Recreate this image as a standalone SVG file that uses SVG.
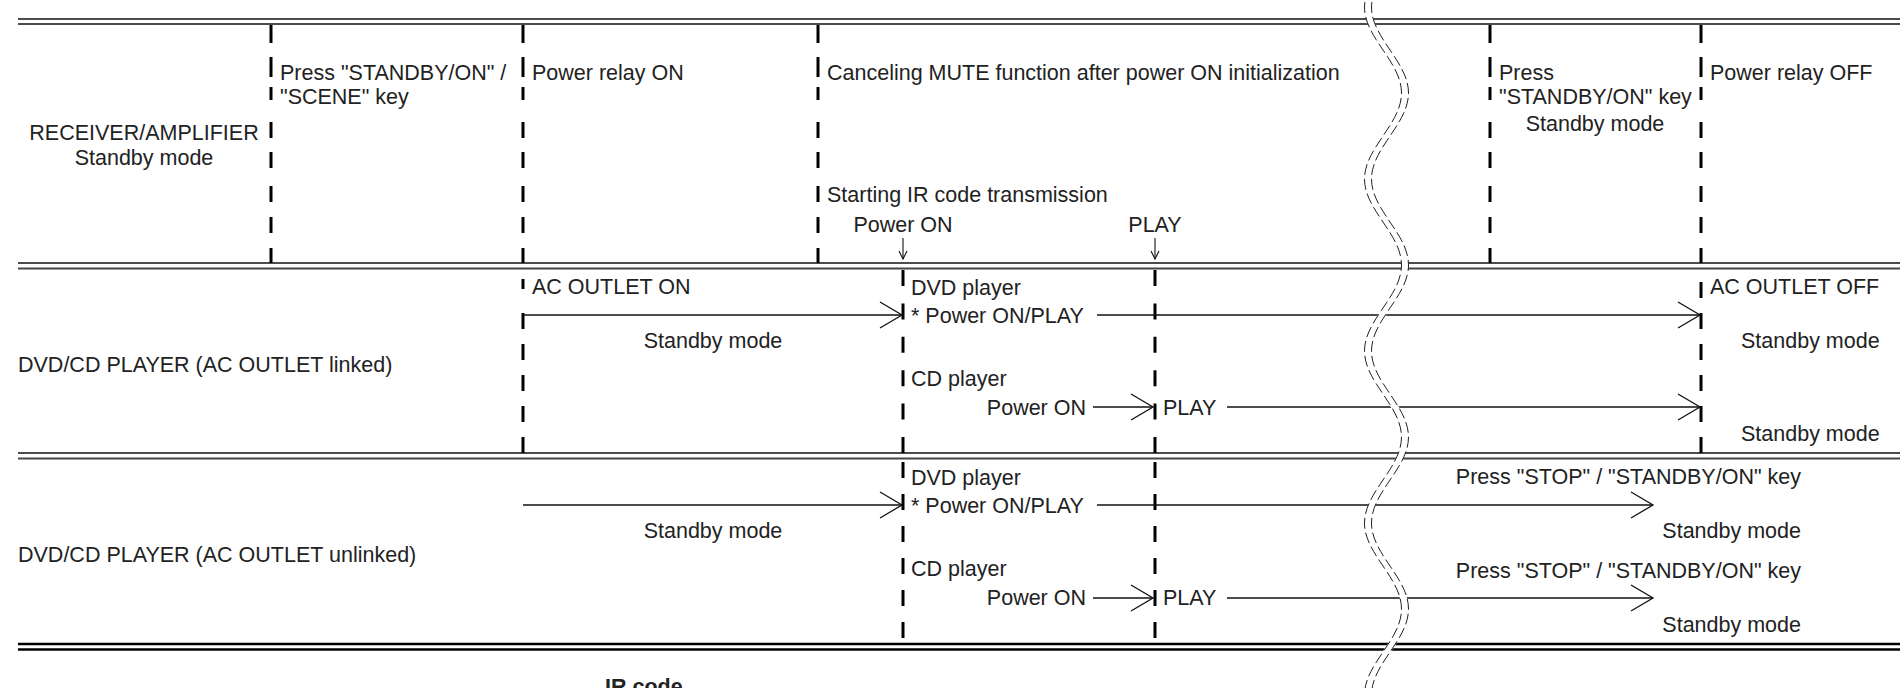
<svg xmlns="http://www.w3.org/2000/svg" width="1900" height="688" viewBox="0 0 1900 688">
<style>
text{font-family:"Liberation Sans",Arial,Helvetica,sans-serif;font-size:21.5px;fill:#222}
.m{text-anchor:middle}.e{text-anchor:end}
.b{font-weight:bold}
.h{stroke:#111;stroke-width:1.5;fill:none}
.hg{stroke:#444;stroke-width:2;fill:none}
.hb{stroke:#000;stroke-width:2.6;fill:none}
.d{stroke:#000;stroke-width:3;fill:none}
.dr{stroke-dasharray:18 14 20 10 13 22 16 14 16 18 16 15 16 15 15}
.dl{stroke-dasharray:16 17.4}
.ds{stroke-dasharray:16 15}
.du{stroke-dasharray:16 16}
.a{stroke:#111;stroke-width:1.3;fill:none;marker-end:url(#ah)}
.sa{stroke:#111;stroke-width:1.1;fill:none;marker-end:url(#sh)}
.wb{stroke:#fff;stroke-width:7;fill:none}
.we{stroke:#222;stroke-width:1;fill:none;stroke-dasharray:11 4}
</style>
<defs>
<marker id="ah" markerUnits="userSpaceOnUse" markerWidth="26" markerHeight="30" viewBox="-24 -15 26 30" refX="0" refY="0" orient="auto" overflow="visible"><path d="M-22,-13 L0,0 L-22,13" fill="none" stroke="#111" stroke-width="1.3"/></marker>
<marker id="sh" markerUnits="userSpaceOnUse" markerWidth="12" markerHeight="12" viewBox="-10 -6 12 12" refX="0" refY="0" orient="auto" overflow="visible"><path d="M-8,-4 L0,0 L-8,4" fill="none" stroke="#111" stroke-width="1.1"/></marker>
<path id="wave" d="M1405,-79 C1405,-47.75 1368,-24.25 1368,7 C1368,38.25 1405,61.75 1405,93 C1405,124.25 1368,147.75 1368,179 C1368,210.25 1405,233.75 1405,265 C1405,296.25 1368,319.75 1368,351 C1368,382.25 1405,405.75 1405,437 C1405,468.25 1368,491.75 1368,523 C1368,554.25 1405,577.75 1405,609 C1405,640.25 1368,663.75 1368,695"/>
</defs>

<g id="grid">
<line class="h" x1="18" y1="19" x2="1900" y2="19"/>
<line class="h" x1="18" y1="24" x2="1900" y2="24"/>
<line class="h" x1="18" y1="263" x2="1900" y2="263"/>
<line class="hg" x1="18" y1="268.5" x2="1900" y2="268.5"/>
<line class="h" x1="18" y1="453" x2="1900" y2="453"/>
<line class="hg" x1="18" y1="458.5" x2="1900" y2="458.5"/>
<line class="hb" x1="18" y1="644" x2="1900" y2="644"/>
<line class="hb" x1="18" y1="649.5" x2="1900" y2="649.5"/>
</g>

<g id="timeline-marks">
<line class="d dr" x1="271" y1="25" x2="271" y2="263"/>
<line class="d dr" x1="523" y1="25" x2="523" y2="263"/>
<line class="d dr" x1="818" y1="25" x2="818" y2="263"/>
<line class="d dr" x1="1490" y1="25" x2="1490" y2="263"/>
<line class="d dr" x1="1701" y1="25" x2="1701" y2="263"/>
<line class="d" x1="523" y1="279" x2="523" y2="289"/>
<line class="d ds" x1="523" y1="313" x2="523" y2="453"/>
<line class="d dl" x1="903" y1="270" x2="903" y2="453"/>
<line class="d dl" x1="1155" y1="270" x2="1155" y2="453"/>
<line class="d" x1="1701" y1="282" x2="1701" y2="298"/>
<line class="d ds" x1="1701" y1="313" x2="1701" y2="453"/>
<line class="d du" x1="903" y1="462" x2="903" y2="644"/>
<line class="d du" x1="1155" y1="462" x2="1155" y2="644"/>
</g>

<g id="connectors">
<line class="sa" x1="903" y1="238" x2="903" y2="259"/>
<line class="sa" x1="1155" y1="238" x2="1155" y2="259"/>
<line class="a" x1="523" y1="315" x2="902" y2="315"/>
<line class="a" x1="1097" y1="315" x2="1700" y2="315"/>
<line class="a" x1="1093" y1="407" x2="1153" y2="407"/>
<line class="a" x1="1227" y1="407" x2="1700" y2="407"/>
<line class="a" x1="523" y1="505" x2="902" y2="505"/>
<line class="a" x1="1097" y1="505" x2="1653" y2="505"/>
<line class="a" x1="1093" y1="598" x2="1153" y2="598"/>
<line class="a" x1="1227" y1="598" x2="1653" y2="598"/>
</g>

<g id="receiver-row">
<text class="m" x="144" y="140">RECEIVER/AMPLIFIER</text>
<text class="m" x="144" y="165">Standby mode</text>
<text x="280" y="80">Press "STANDBY/ON" /</text>
<text x="280" y="104">"SCENE" key</text>
<text x="532" y="80">Power relay ON</text>
<text x="827" y="80">Canceling MUTE function after power ON initialization</text>
<text x="827" y="202">Starting IR code transmission</text>
<text class="m" x="903" y="232">Power ON</text>
<text class="m" x="1155" y="232">PLAY</text>
<text x="1499" y="80">Press</text>
<text x="1499" y="104">"STANDBY/ON" key</text>
<text class="m" x="1595" y="131">Standby mode</text>
<text x="1710" y="80">Power relay OFF</text>
</g>

<g id="linked-row">
<text x="18" y="372">DVD/CD PLAYER (AC OUTLET linked)</text>
<text x="532" y="294">AC OUTLET ON</text>
<text class="m" x="713" y="348">Standby mode</text>
<text x="911" y="295">DVD player</text>
<text x="911" y="323">* Power ON/PLAY</text>
<text x="911" y="386">CD player</text>
<text class="e" x="1086" y="415">Power ON</text>
<text x="1163" y="415">PLAY</text>
<text x="1710" y="294">AC OUTLET OFF</text>
<text x="1741" y="348">Standby mode</text>
<text x="1741" y="441">Standby mode</text>
</g>

<g id="unlinked-row">
<text x="18" y="562">DVD/CD PLAYER (AC OUTLET unlinked)</text>
<text class="m" x="713" y="538">Standby mode</text>
<text x="911" y="485">DVD player</text>
<text x="911" y="513">* Power ON/PLAY</text>
<text x="911" y="576">CD player</text>
<text class="e" x="1086" y="605">Power ON</text>
<text x="1163" y="605">PLAY</text>
<text class="e" x="1801" y="484">Press "STOP" / "STANDBY/ON" key</text>
<text class="e" x="1801" y="538">Standby mode</text>
<text class="e" x="1801" y="578">Press "STOP" / "STANDBY/ON" key</text>
<text class="e" x="1801" y="632">Standby mode</text>
</g>

<g id="ir-code">
<text class="b" x="605" y="694">IR code</text>
</g>

<g id="time-break">
<use href="#wave" class="wb"/>
<use href="#wave" class="we" transform="translate(-3.5,0)"/>
<use href="#wave" class="we" transform="translate(3.5,0)"/>
</g>
</svg>
